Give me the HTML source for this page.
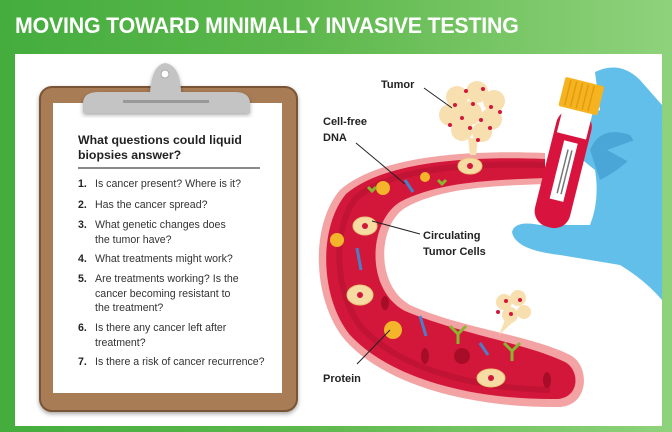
<!DOCTYPE html>
<html><head><style>
body{margin:0;width:672px;height:432px;overflow:hidden;font-family:"Liberation Sans",sans-serif;}
#bg{position:absolute;left:0;top:0;width:672px;height:432px;background:linear-gradient(90deg,#44ad3e 0%,#5db84c 45%,#8fd27c 100%);}
#title{position:absolute;left:15px;top:13px;color:#fff;font-weight:bold;font-size:22px;letter-spacing:-0.2px;transform:scaleX(0.97);transform-origin:left;white-space:nowrap;}
#panel{position:absolute;left:15px;top:54px;width:647px;height:372px;background:#fff;}
.q{position:absolute;font-size:10.6px;color:#333;line-height:14.6px;}
.q b{position:absolute;left:-17px;color:#222;}
</style></head><body>
<div id="bg"></div>
<div id="title">MOVING TOWARD MINIMALLY INVASIVE TESTING</div>
<div id="panel"></div>
<svg width="672" height="432" style="position:absolute;left:0;top:0">
<defs><filter id="sh"><feDropShadow dx="0" dy="2" stdDeviation="2" flood-opacity="0.35"/></filter></defs>
<rect x="40" y="87" width="257" height="324" rx="12" fill="#a87c55" stroke="#7a5536" stroke-width="2" filter="url(#sh)"/>
<rect x="53" y="103" width="229" height="290" fill="#fff"/>
<path d="M83,113 L83,104 Q83,92 98,92 L150,92 Q152,65 165,63 Q180,65 181,92 L235,92 Q250,92 250,104 L250,113 Z" fill="#c4c4c4" filter="url(#sh)"/>
<circle cx="165" cy="74" r="4" fill="#fff" stroke="#aaa"/>
<rect x="123" y="100" width="86" height="3" fill="#999"/>
<line x1="78" y1="168" x2="260" y2="168" stroke="#444" stroke-width="1.2"/>
<path d="M545,153 C470,150 380,155 340,190 C310,225 312,300 345,340 C385,385 470,408 560,407 C590,405 590,365 570,355 C530,335 460,328 410,305 C375,285 378,225 405,208 C440,188 490,186 545,184 Z" fill="#f3a3a3"/>
<path d="M545,159 C470,156 385,161 346,194 C318,228 320,298 350,335 C390,378 470,400 558,399 C580,397 580,370 565,362 C525,343 460,334 405,311 C365,290 368,222 400,202 C438,182 490,180 545,178 Z" fill="#d3173a"/>
<path d="M545,165 C470,163 390,168 356,198 C332,228 334,295 362,328 C400,368 470,388 550,390" fill="none" stroke="#b5102f" stroke-width="6" opacity="0.6"/>
<g fill="#f6dba3" stroke="#e8c57a">
<ellipse cx="365" cy="226" rx="12" ry="9"/><ellipse cx="360" cy="295" rx="13" ry="10"/><ellipse cx="491" cy="378" rx="14" ry="9"/><ellipse cx="470" cy="166" rx="12" ry="8"/>
</g>
<g fill="#d3173a"><circle cx="365" cy="226" r="3"/><circle cx="360" cy="295" r="3"/><circle cx="491" cy="378" r="3"/><circle cx="470" cy="166" r="3"/></g>
<g fill="#f5b52a"><circle cx="383" cy="188" r="7"/><circle cx="425" cy="177" r="5"/><circle cx="337" cy="240" r="7"/><circle cx="393" cy="330" r="9"/></g>
<g stroke="#4a7fc7" stroke-width="3" fill="none"><path d="M405,180 l8,12"/><path d="M357,248 l4,22"/><path d="M420,316 l6,20"/><path d="M480,343 l8,12"/></g>
<g stroke="#8ab52f" stroke-width="3" fill="none"><path d="M450,326 l8,8 l8,-8 M458,334 v10"/><path d="M504,343 l8,8 l8,-8 M512,351 v10"/><path d="M368,187 l4,4 l4,-4"/><path d="M438,180 l4,4 l4,-4"/></g>
<g fill="#a80d28"><ellipse cx="462" cy="356" rx="8" ry="8"/><ellipse cx="425" cy="356" rx="4" ry="8"/><ellipse cx="385" cy="303" rx="4" ry="7"/><ellipse cx="547" cy="380" rx="4" ry="8"/></g>
<g fill="#f8dfb0">
<circle cx="457" cy="97" r="11"/><circle cx="477" cy="92" r="11"/><circle cx="494" cy="101" r="11"/><circle cx="450" cy="115" r="11"/><circle cx="470" cy="113" r="12"/><circle cx="491" cy="119" r="11"/><circle cx="462" cy="130" r="11"/><circle cx="482" cy="132" r="10"/>
<path d="M468,138 L478,138 L476,155 L470,155Z"/>
<circle cx="504" cy="302" r="8"/><circle cx="518" cy="298" r="8"/><circle cx="510" cy="315" r="8"/><circle cx="524" cy="312" r="7"/>
<path d="M505,320 L515,320 L499,335 Z"/>
</g>
<g fill="#d3173a">
<circle cx="466" cy="91" r="2"/><circle cx="483" cy="89" r="2"/><circle cx="455" cy="105" r="2"/><circle cx="473" cy="104" r="2"/><circle cx="491" cy="107" r="2"/><circle cx="500" cy="112" r="2"/><circle cx="462" cy="118" r="2"/><circle cx="481" cy="120" r="2"/><circle cx="450" cy="125" r="2"/><circle cx="470" cy="128" r="2"/><circle cx="490" cy="128" r="2"/><circle cx="478" cy="140" r="2"/>
<circle cx="506" cy="301" r="2"/><circle cx="520" cy="300" r="2"/><circle cx="511" cy="314" r="2"/><circle cx="498" cy="312" r="2"/>
</g>
<path d="M595,72 Q620,60 640,80 L662,105 L662,300 Q645,280 620,265 L560,255 Q515,250 512,232 Q515,220 540,225 L590,225 Q600,200 595,170 L570,150 Q575,120 600,110 Z" fill="#62bfe9"/>
<g transform="rotate(14 570 150)">
<rect x="550" y="110" width="36" height="120" rx="16" fill="#d8143e"/>
<rect x="553" y="108" width="30" height="28" fill="#fff"/>
<rect x="562" y="142" width="14" height="60" fill="#fff"/>
<line x1="568" y1="150" x2="568" y2="195" stroke="#777" stroke-width="1.5"/><line x1="572" y1="150" x2="572" y2="195" stroke="#777" stroke-width="1.5"/>
<rect x="548" y="80" width="40" height="30" rx="2" fill="#f5b41f"/>
<g stroke="#e39a10" stroke-width="1.5"><line x1="554" y1="82" x2="554" y2="108"/><line x1="560" y1="82" x2="560" y2="108"/><line x1="566" y1="82" x2="566" y2="108"/><line x1="572" y1="82" x2="572" y2="108"/><line x1="578" y1="82" x2="578" y2="108"/></g>
</g>
<path d="M590,150 Q600,125 630,135 L640,150 Q620,170 600,180 Z" fill="#4aa6d6"/>
<path d="M607,150 L662,130 L662,180 Z" fill="#62bfe9"/>
<g stroke="#222" stroke-width="1"><line x1="424" y1="88" x2="452" y2="108"/><line x1="356" y1="143" x2="405" y2="184"/><line x1="372" y1="221" x2="420" y2="234"/><line x1="357" y1="364" x2="390" y2="330"/></g>
<g font-family="Liberation Sans" font-weight="bold" font-size="11" fill="#222">
<text x="381" y="88">Tumor</text>
<text x="323" y="125">Cell-free</text><text x="323" y="141">DNA</text>
<text x="423" y="239">Circulating</text><text x="423" y="255">Tumor Cells</text>
<text x="323" y="382">Protein</text>
</g>
</svg>
<div style="position:absolute;left:78px;top:133px;font-weight:bold;font-size:12.3px;line-height:15px;color:#222;">What questions could liquid<br>biopsies answer?</div>
<div class="q" style="left:95px;top:177px"><b>1.</b>Is cancer present? Where is it?</div>
<div class="q" style="left:95px;top:198px"><b>2.</b>Has the cancer spread?</div>
<div class="q" style="left:95px;top:218px"><b>3.</b>What genetic changes does<br>the tumor have?</div>
<div class="q" style="left:95px;top:252px"><b>4.</b>What treatments might work?</div>
<div class="q" style="left:95px;top:272px"><b>5.</b>Are treatments working? Is the<br>cancer becoming resistant to<br>the treatment?</div>
<div class="q" style="left:95px;top:321px"><b>6.</b>Is there any cancer left after<br>treatment?</div>
<div class="q" style="left:95px;top:355px"><b>7.</b>Is there a risk of cancer recurrence?</div>
</body></html>
